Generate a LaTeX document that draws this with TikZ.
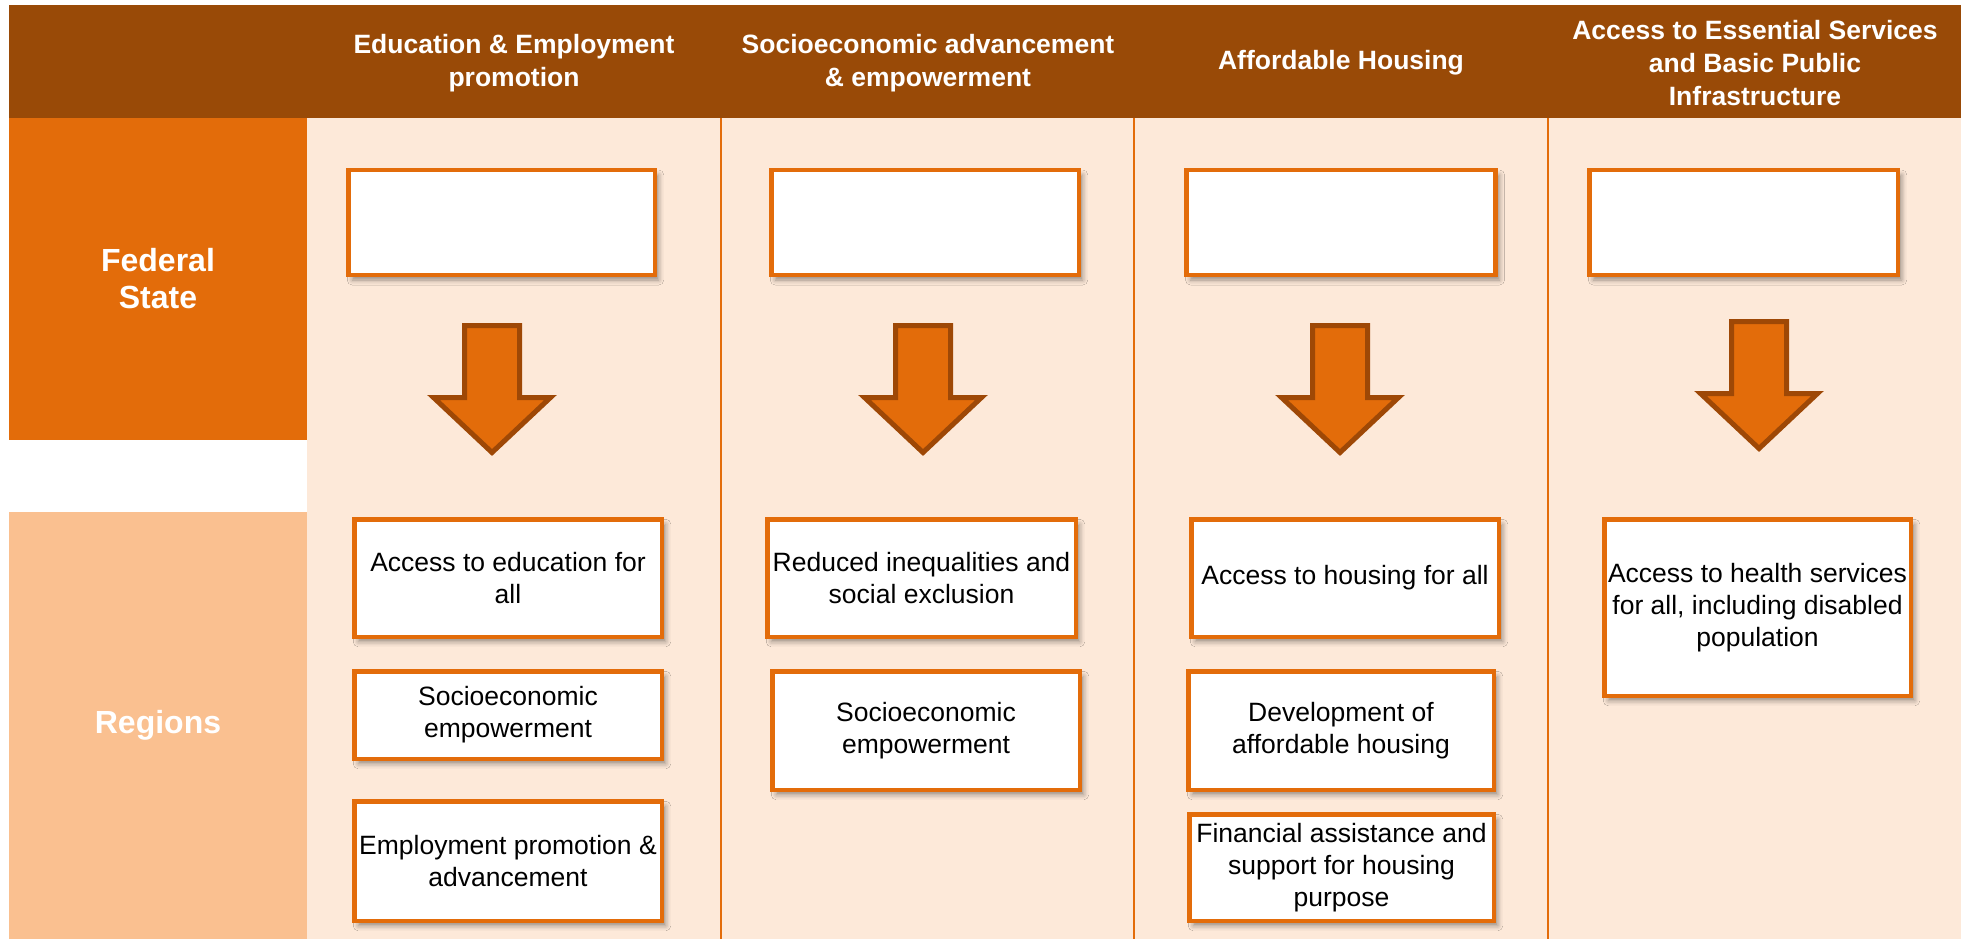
\documentclass[tikz,border=0pt]{standalone}
\usepackage{fontspec}
\setmainfont{Liberation Sans}
\usetikzlibrary{shadows.blur}

\definecolor{hdrbrown}{RGB}{153,74,7}
\definecolor{fedorange}{RGB}{227,108,10}
\definecolor{regorange}{RGB}{250,192,144}
\definecolor{peach}{RGB}{253,233,217}
\definecolor{arrowedge}{RGB}{158,72,6}

\tikzset{
  band/.style={inner sep=0pt, outer sep=0pt, draw=none},
  goalbox/.style={draw=fedorange, line width=4.5pt, fill=white, inner sep=2pt,
    align=center, font=\fontsize{26.5}{32}\selectfont,
    blur shadow={shadow xshift=4pt, shadow yshift=-5pt, shadow blur radius=5pt, shadow opacity=40}},
  hdrtext/.style={text=white, align=center, font=\bfseries\fontsize{26.5}{33}\selectfont},
  sidetext/.style={text=white, align=center, font=\bfseries\fontsize{32}{37}\selectfont},
  divider/.style={draw=fedorange, line width=2.5pt},
  blockarrow/.style={fill=fedorange, draw=arrowedge, line width=5pt, miter limit=10},
  flowarrow/.pic={
    \draw[blockarrow] (-27.5,2.5) -- (27.5,2.5) -- (27.5,74.5) -- (58.5,74.5)
      -- (0,129.5) -- (-58.5,74.5) -- (-27.5,74.5) -- cycle;
  }
}

\begin{document}
\begin{tikzpicture}[x=1pt,y=-1pt]
\useasboundingbox (0,0) rectangle (1961,939);
\fill[white] (0,0) rectangle (1961,939);

% panels
\fill[peach] (307,118) rectangle (1961,939);
\node[band, fill=hdrbrown, minimum width=1952pt, minimum height=113pt] (hdr) at (985,61.5) {};
\node[band, fill=fedorange, minimum width=298pt, minimum height=322pt, sidetext] (fed) at (158,279) {Federal\\State};
\node[band, fill=regorange, minimum width=298pt, minimum height=427pt, sidetext] (reg) at (158,725.5) {Regions};

% column dividers
\coordinate (d1t) at (721,118);  \coordinate (d1b) at (721,939);
\coordinate (d2t) at (1134,118); \coordinate (d2b) at (1134,939);
\coordinate (d3t) at (1548,118); \coordinate (d3b) at (1548,939);
\draw[divider] (d1t) -- (d1b);
\draw[divider] (d2t) -- (d2b);
\draw[divider] (d3t) -- (d3b);

% column headings
\node[hdrtext] (h1) at (514,63) {Education \& Employment\\promotion};
\node[hdrtext] (h2) at (928,63) {Socioeconomic advancement\\\& empowerment};
\node[hdrtext] (h3) at (1341,63) {Affordable Housing};
\node[hdrtext] (h4) at (1755,63) {Access to Essential Services\\and Basic Public\\Infrastructure};

% federal level boxes
\node[goalbox, minimum width=306.5pt, minimum height=105pt] (f1) at (501.5,222.5) {};
\node[goalbox, minimum width=307.5pt, minimum height=105pt] (f2) at (925,222.5) {};
\node[goalbox, minimum width=309pt, minimum height=105pt] (f3) at (1341,222.5) {};
\node[goalbox, minimum width=308.5pt, minimum height=105pt] (f4) at (1743.5,222.5) {};

% block arrows
\pic at (492,323) {flowarrow};
\pic at (923,323) {flowarrow};
\pic at (1340,323) {flowarrow};
\pic at (1759,319) {flowarrow};

% regional boxes
\node[goalbox, minimum width=307.5pt, minimum height=117.5pt] (r1a) at (508,578) {Access to education for\\all};
\node[goalbox, minimum width=307.5pt, minimum height=87.5pt] (r1b) at (508,715) {Socioeconomic\\empowerment};
\node[goalbox, minimum width=307.5pt, minimum height=119.5pt] (r1c) at (508,861) {Employment promotion \&\\advancement};

\node[goalbox, minimum width=308.5pt, minimum height=117.5pt] (r2a) at (921.5,578) {Reduced inequalities and\\social exclusion};
\node[goalbox, minimum width=307.5pt, minimum height=118.5pt] (r2b) at (926,730.5) {Socioeconomic\\empowerment};

\node[goalbox, minimum width=307.5pt, minimum height=117.5pt] (r3a) at (1345,578) {Access to housing for all};
\node[goalbox, minimum width=305.5pt, minimum height=118.5pt] (r3b) at (1341,730.5) {Development of\\affordable housing};
\node[goalbox, minimum width=304.5pt, minimum height=106.5pt] (r3c) at (1341.5,867.5) {Financial assistance and\\support for housing\\purpose};

\node[goalbox, minimum width=306.5pt, minimum height=176.5pt] (r4a) at (1757.5,607.5) {Access to health services\\for all, including disabled\\population};
\end{tikzpicture}
\end{document}
